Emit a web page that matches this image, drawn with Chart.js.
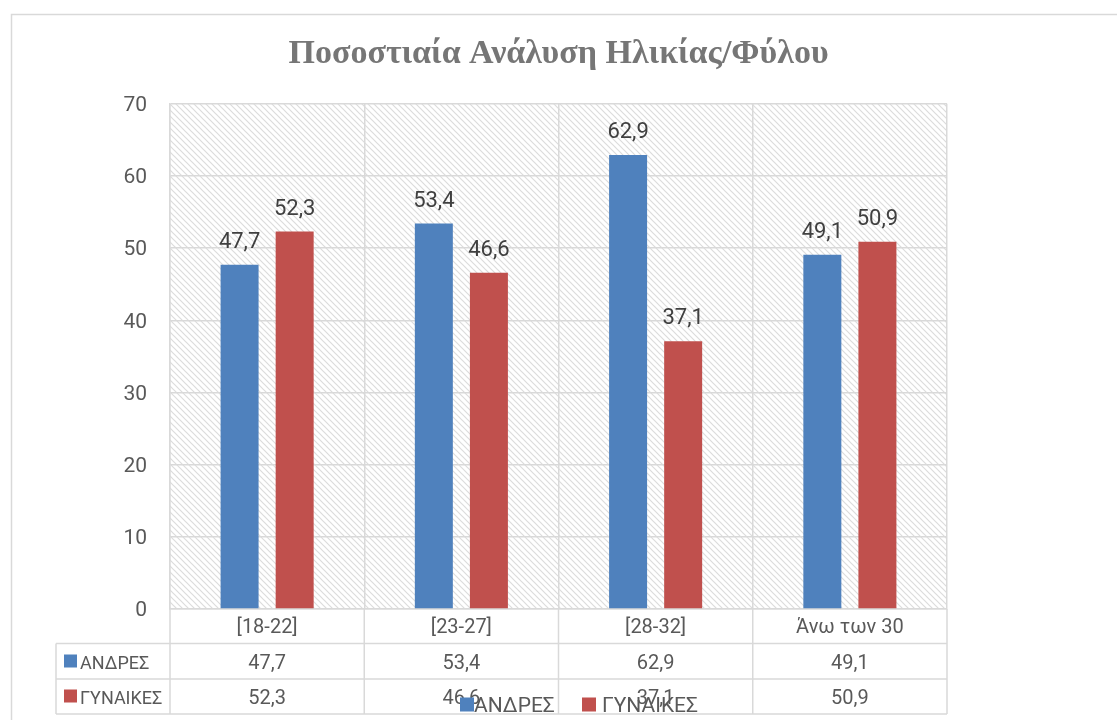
<!DOCTYPE html>
<html>
<head>
<meta charset="utf-8">
<script src="https://cdn.jsdelivr.net/npm/chart.js@4.4.1/dist/chart.umd.min.js"></script>
<style>
html,body{margin:0;padding:0;background:#fff;}
#wrap{width:1117px;height:720px;position:relative;}
</style>
</head>
<body>
<div id="wrap"><canvas id="c" width="1117" height="720"></canvas></div>
<script>
const chartTitle = 'Ποσοστιαία Ανάλυση Ηλικίας/Φύλου';
const categories = ['[18-22]', '[23-27]', '[28-32]', 'Άνω των 30'];
const seriesNames = ['ΑΝΔΡΕΣ', 'ΓΥΝΑΙΚΕΣ'];
const menValues = [47.7, 53.4, 62.9, 49.1];
const womenValues = [52.3, 46.6, 37.1, 50.9];
const seriesColors = ['#4F81BD', '#C0504D'];
const yMin = 0, yMax = 70, yStep = 10;

const GRID = '#d9d9d9';
const TEXT = '#595959';
const fmt = v => v.toFixed(1).replace('.', ',');

function makeHatch() {
  const s = 6;
  const p = document.createElement('canvas');
  p.width = s; p.height = s;
  const g = p.getContext('2d');
  g.fillStyle = '#ffffff';
  g.fillRect(0, 0, s, s);
  g.strokeStyle = '#dcdcdc';
  g.lineWidth = 1.2;
  g.beginPath();
  g.moveTo(-1, -1); g.lineTo(s + 1, s + 1);
  g.moveTo(-1 - s, -1); g.lineTo(1, s + 1);
  g.moveTo(s - 1, -1); g.lineTo(2 * s + 1, s + 1);
  g.stroke();
  return p;
}

const decor = {
  id: 'decor',
  beforeDraw(chart) {
    const ctx = chart.ctx, a = chart.chartArea;
    ctx.save();
    ctx.fillStyle = '#fff';
    ctx.fillRect(0, 0, chart.width, chart.height);
    ctx.strokeStyle = GRID; ctx.lineWidth = 1.5;
    ctx.beginPath();
    ctx.moveTo(11.5, chart.height + 5); ctx.lineTo(11.5, 14.5); ctx.lineTo(chart.width + 5, 14.5);
    ctx.stroke();
    ctx.fillStyle = ctx.createPattern(makeHatch(), 'repeat');
    ctx.fillRect(a.left, a.top, a.right - a.left, a.bottom - a.top);
    ctx.restore();
  },
  afterDatasetsDraw(chart) {
    const ctx = chart.ctx;
    ctx.save();
    ctx.font = '22px Roboto';
    ctx.fillStyle = '#404040';
    ctx.textAlign = 'center';
    ctx.textBaseline = 'alphabetic';
    chart.data.datasets.forEach((ds, di) => {
      chart.getDatasetMeta(di).data.forEach((bar, i) => {
        ctx.fillText(fmt(ds.data[i]), bar.x, bar.y - 17);
      });
    });
    ctx.restore();
  },
  afterDraw(chart) {
    const ctx = chart.ctx, a = chart.chartArea, xs = chart.scales.x;
    const n = categories.length;
    const cw = (a.right - a.left) / n;
    const rowTop = [a.bottom, a.bottom + 34.5, a.bottom + 70, a.bottom + 105];
    const tableLeft = 56;
    ctx.save();
    ctx.strokeStyle = GRID; ctx.lineWidth = 1.5;
    ctx.beginPath();
    for (let r = 1; r < rowTop.length; r++) {
      ctx.moveTo(tableLeft, rowTop[r]); ctx.lineTo(a.right, rowTop[r]);
    }
    ctx.moveTo(tableLeft, rowTop[1]); ctx.lineTo(tableLeft, rowTop[3]);
    for (let i = 0; i <= n; i++) {
      const x = xs.getPixelForValue(Math.min(i, n - 1)) + (i === n ? cw / 2 : -cw / 2);
      ctx.moveTo(x, a.bottom); ctx.lineTo(x, rowTop[3]);
    }
    ctx.stroke();

    const rows = [menValues, womenValues];
    ctx.textBaseline = 'alphabetic';
    rows.forEach((vals, r) => {
      const base = rowTop[r + 2] - 10.5;
      ctx.font = '20px Roboto';
      ctx.fillStyle = TEXT;
      ctx.textAlign = 'center';
      vals.forEach((v, i) => ctx.fillText(fmt(v), xs.getPixelForValue(i), base));
      ctx.fillStyle = seriesColors[r];
      ctx.fillRect(64, base - 14, 13, 13);
      ctx.fillStyle = TEXT;
      ctx.textAlign = 'left';
      ctx.font = '18px Roboto';
      ctx.fillText(seriesNames[r], 80, base);
    });

    // legend (drawn over the table bottom, as in the reference)
    ctx.font = '21px Roboto';
    ctx.textAlign = 'left';
    const base = 711.5;
    const starts = [a.left + 290, a.left + 412];
    seriesNames.forEach((nm, i) => {
      ctx.fillStyle = seriesColors[i];
      ctx.fillRect(starts[i], base - 14, 14, 14);
      ctx.fillStyle = TEXT;
      ctx.fillText(nm, starts[i] + (i === 0 ? 14 : 20), base);
    });
    ctx.restore();
  }
};

new Chart(document.getElementById('c'), {
  type: 'bar',
  data: {
    labels: categories,
    datasets: [
      { label: seriesNames[0], data: menValues, backgroundColor: seriesColors[0] },
      { label: seriesNames[1], data: womenValues, backgroundColor: seriesColors[1] }
    ]
  },
  options: {
    responsive: false,
    animation: false,
    devicePixelRatio: 1,
    layout: { padding: 0 },
    datasets: { bar: { categoryPercentage: 0.567, barPercentage: 0.69 } },
    plugins: {
      legend: { display: false },
      tooltip: { enabled: false },
      title: {
        display: true,
        text: chartTitle,
        color: '#767676',
        font: { family: 'Liberation Serif', size: 34, weight: 'bold' },
        padding: { top: 34, bottom: 29 }
      }
    },
    scales: {
      x: {
        grid: { color: GRID, lineWidth: 1.5, offset: true, drawTicks: false },
        border: { color: GRID, width: 1.5 },
        ticks: { color: TEXT, font: { family: 'Roboto', size: 20 }, padding: 7 },
        afterFit(s) { s.height = 111; }
      },
      y: {
        min: yMin, max: yMax,
        ticks: { stepSize: yStep, color: TEXT, font: { family: 'Roboto', size: 21 }, padding: 23, labelOffset: 2 },
        grid: { color: GRID, lineWidth: 1.5, drawTicks: false },
        border: { color: GRID, width: 1.5 },
        afterFit(s) { s.width = 170; }
      },
      spacer: {
        type: 'linear',
        position: 'right',
        display: true,
        ticks: { display: false },
        grid: { display: false, drawTicks: false },
        border: { display: false },
        afterFit(s) { s.width = 170; }
      }
    }
  },
  plugins: [decor]
});
</script>
</body>
</html>
